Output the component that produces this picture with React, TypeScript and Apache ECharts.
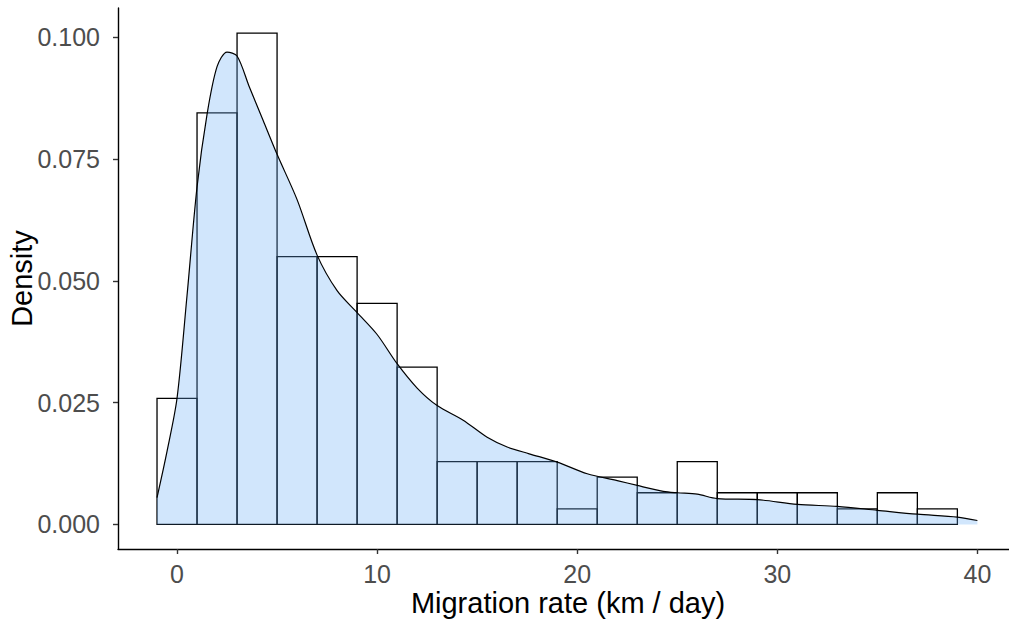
import React, { useEffect, useRef } from "react";
import * as echarts from "echarts";

// Histogram bins (width 2 km/day), centred on even values
const binWidth = 2;
const binCenters = [0, 2, 4, 6, 8, 10, 12, 14, 16, 18, 20, 22, 24, 26, 28, 30, 32, 34, 36, 38];
const binDensity = [
  0.0259, 0.0845, 0.1009, 0.055, 0.055, 0.0454, 0.0323, 0.0129, 0.0129, 0.0129,
  0.0032, 0.0097, 0.0065, 0.0129, 0.0065, 0.0065, 0.0065, 0.0032, 0.0065, 0.0032,
];

// Kernel density estimate of migration rate
const densityX = [
  -1.0, -0.5, 0.0, 0.5, 1.0, 1.5, 2.0, 2.5, 3.0, 3.6, 4.3, 5.0, 6.0, 7.0, 8.0, 9.0, 10.0,
  11.0, 12.0, 13.0, 14.3, 15.5, 16.5, 17.6, 19.0, 20.5, 22.0, 23.0, 24.3, 25.0, 26.0, 27.0,
  29.0, 31.0, 33.0, 35.0, 37.0, 39.0, 40.0,
];
const densityY = [
  0.0055, 0.015, 0.0259, 0.047, 0.0693, 0.0842, 0.094, 0.097, 0.0962, 0.09, 0.083, 0.076,
  0.0667, 0.0553, 0.048, 0.0435, 0.039, 0.033, 0.028, 0.0244, 0.0214, 0.0179, 0.0159, 0.0145,
  0.0128, 0.0104, 0.009, 0.008, 0.0068, 0.0065, 0.0062, 0.0053, 0.0051, 0.0041, 0.0037,
  0.0029, 0.0021, 0.0015, 0.0008,
];

const xTicks = [0, 10, 20, 30, 40];
const yTicks = [0, 0.025, 0.05, 0.075, 0.1];

const xLabel = "Migration rate (km / day)";
const yLabel = "Density";

const FONT = "'Liberation Sans', Arial, sans-serif";

export default function App() {
  const ref = useRef<HTMLDivElement>(null);

  useEffect(() => {
    if (!ref.current) return;
    const chart = echarts.init(ref.current, null, { renderer: "svg" });

    const axisLine = { show: true, onZero: false, lineStyle: { color: "#000", width: 1.4 } };
    const axisTick = (vals: number[]) => ({
      show: true,
      length: 5,
      customValues: vals,
      lineStyle: { color: "#333", width: 1.4 },
    });

    chart.setOption({
      animation: false,
      backgroundColor: "#fff",
      grid: { left: 118, top: 8, right: 0, bottom: 73, outerBoundsMode: "none", containLabel: false },
      xAxis: {
        type: "value",
        min: -2.95,
        max: 41.58,
        splitLine: { show: false },
        axisLine,
        axisTick: axisTick(xTicks),
        axisLabel: {
          customValues: xTicks,
          color: "#4D4D4D",
          fontSize: 25,
          fontFamily: FONT,
          margin: 12,
        },
        name: xLabel,
        nameLocation: "middle",
        nameGap: 39,
        nameMoveOverlap: false,
        nameTextStyle: { color: "#000", fontSize: 29, fontFamily: FONT, padding: [0, 0, 0, 9] },
      },
      yAxis: {
        type: "value",
        min: -0.00505,
        max: 0.10605,
        splitLine: { show: false },
        axisLine,
        axisTick: axisTick(yTicks),
        axisLabel: {
          customValues: yTicks,
          color: "#4D4D4D",
          fontSize: 25,
          fontFamily: FONT,
          margin: 18,
          formatter: (v: number) => v.toFixed(3),
        },
        name: yLabel,
        nameLocation: "middle",
        nameGap: 82,
        nameMoveOverlap: false,
        nameTextStyle: { color: "#000", fontSize: 29, fontFamily: FONT },
      },
      series: [
        {
          type: "custom",
          z: 1,
          data: binCenters.map((c, i) => [c, binDensity[i]]),
          renderItem: (params: any, api: any) => {
            const c = api.value(0);
            const h = api.value(1);
            const p0 = api.coord([c - binWidth / 2, h]);
            const p1 = api.coord([c + binWidth / 2, 0]);
            return {
              type: "rect",
              shape: { x: p0[0], y: p0[1], width: p1[0] - p0[0], height: p1[1] - p0[1] },
              style: { fill: "none", stroke: "#000", lineWidth: 1.3 },
            };
          },
        },
        {
          type: "line",
          z: 2,
          data: densityX.map((x, i) => [x, densityY[i]]),
          smooth: 0.3,
          symbol: "none",
          lineStyle: { color: "#000", width: 1.2 },
          areaStyle: { color: "rgba(102,172,245,0.3)", origin: "auto", opacity: 1 },
        },
      ],
    });

    return () => chart.dispose();
  }, []);

  return (
    <div
      ref={ref}
      style={{ position: "fixed", left: 0, top: 0, width: 1009, height: 622 }}
    />
  );
}
